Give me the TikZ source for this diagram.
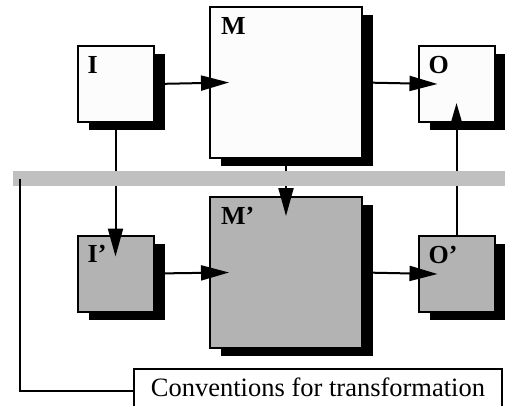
\documentclass[tikz,border=0pt]{standalone}
\usepackage{fontspec}
\setmainfont{Liberation Serif}
\usetikzlibrary{arrows.meta, positioning, shadows}
\definecolor{lightbox}{HTML}{FCFCFC}
\definecolor{darkbox}{HTML}{B3B3B3}
\definecolor{barcolor}{HTML}{C0C0C0}

\begin{document}
\begin{tikzpicture}[
    x=1pt, y=-1pt,
    block/.style={
        rectangle, draw=black, line width=2pt, inner sep=0pt,
        drop shadow={shadow xshift=11pt, shadow yshift=-8pt, fill=black, opacity=1}
    },
    smallbox/.style={block, minimum width=76pt, minimum height=76pt},
    bigbox/.style={block, minimum width=152pt, minimum height=151pt},
    tag/.style={anchor=north west, inner sep=0pt, font=\fontsize{26}{30}\selectfont\bfseries},
    flow/.style={draw=black, line width=2pt, -{Triangle[length=28pt, width=15pt]}},
    link/.style={draw=black, line width=2pt}
]
\useasboundingbox (0,0) rectangle (505,405);
\clip (0,0) rectangle (505,405);

% 1. TOP ROW: I, M, O
\node[smallbox, fill=lightbox] (I) at (115.5,84) {};
\node[bigbox, fill=lightbox] (M) at (286,82.5) {};
\node[smallbox, fill=lightbox] (O) at (456.5,84) {};
\node[tag] (Ilab) at ([shift={(11pt,-11pt)}]I.north west) {I};
\node[tag] (Mlab) at ([shift={(12pt,-11pt)}]M.north west) {M};
\node[tag] (Olab) at ([shift={(11pt,-11pt)}]O.north west) {O};

% 2. BOTTOM ROW: I', M', O'
\node[smallbox, fill=darkbox] (Ip) at (115.5,273.5) {};
\node[bigbox, fill=darkbox] (Mp) at (286,272.5) {};
\node[smallbox, fill=darkbox] (Op) at (456.5,274) {};
\node[tag] (Iplab) at ([shift={(11pt,-11pt)}]Ip.north west) {I’};
\node[tag] (Mplab) at ([shift={(12pt,-11pt)}]Mp.north west) {M’};
\node[tag] (Oplab) at ([shift={(11pt,-11pt)}]Op.north west) {O’};

% Arrows
\draw[flow] (I.east) -- ([xshift=20pt]M.west);
\draw[flow] (M.east) -- ([xshift=20pt]O.west);
\draw[flow] (Ip.east) -- ([xshift=20pt]Mp.west);
\draw[flow] (Mp.east) -- ([xshift=20pt]Op.west);
\draw[flow] (I.south) -- ([yshift=-22pt]Ip.north);
\draw[flow] (M.south) -- ([yshift=-20pt]Mp.north);
\draw[draw=black, line width=2pt, -{Triangle[length=20pt, width=11pt]}] (Op.north) -- ([yshift=20pt]O.south);

% 3. SEPARATOR and conventions
\node[fill=barcolor, minimum width=495pt, minimum height=15pt, inner sep=0pt, anchor=west] (bar) at (13,178.5) {};
\node[draw=black, line width=2pt, fill=white, minimum width=368pt, minimum height=44pt,
      text depth=8pt, inner sep=0pt, anchor=north west, font=\fontsize{26.5}{30}\selectfont] (conv) at (133,368) {Conventions for transformation};
\draw[link] ([xshift=7pt]bar.west) |- (conv.west);

\end{tikzpicture}
\end{document}
